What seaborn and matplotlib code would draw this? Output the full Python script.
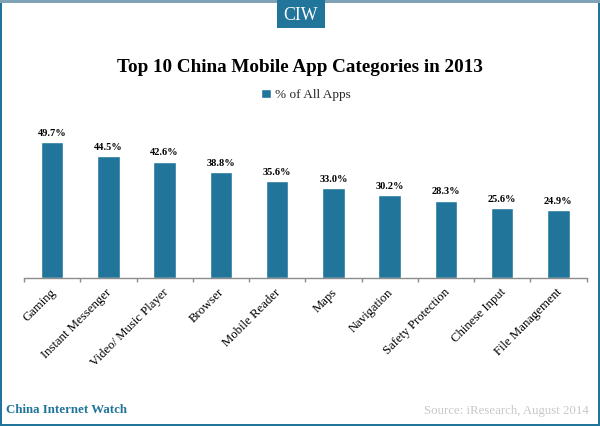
import numpy as np
import pandas as pd
import matplotlib
matplotlib.use('Agg')
import matplotlib.pyplot as plt
from matplotlib.patches import Rectangle
from matplotlib.transforms import ScaledTranslation
import seaborn as sns

categories = ['Gaming', 'Instant Messenger', 'Video/ Music Player', 'Browser', 'Mobile Reader',
              'Maps', 'Navigation', 'Safety Protection', 'Chinese Input', 'File Management']
values = [49.7, 44.5, 42.6, 38.8, 35.6, 33.0, 30.2, 28.3, 25.6, 24.9]
series_name = '% of All Apps'

teal = '#21759b'

sns.set_theme(style='white')
plt.rcParams['font.family'] = ['Liberation Serif', 'DejaVu Serif']

df = pd.DataFrame({'category': categories, 'share': values})

fig = plt.figure(figsize=(6, 4.26), dpi=100, facecolor='white')
ax = fig.add_axes([24 / 600, 1 - 278 / 426, 562.5 / 600, 164 / 426])

sns.barplot(data=df, x='category', y='share', color=teal, width=0.4, saturation=1,
            label=series_name, ax=ax)
ax.set_xlim(-0.5, 9.5)
ax.set_ylim(0, 60)
ax.set_xlabel('')
ax.set_ylabel('')
ax.set_yticks([])

for spine in ['top', 'left', 'right']:
    ax.spines[spine].set_visible(False)
ax.spines['bottom'].set_color('#8c8c8c')
ax.spines['bottom'].set_linewidth(1)

# labels sit at the centres, tick marks between the categories
ax.set_xticks(range(len(categories)))
ax.set_xticklabels(categories, rotation=45, ha='right', rotation_mode='anchor', fontsize=9.2, color='black')
ax.set_xticks(np.arange(-0.5, 10), minor=True)
ax.tick_params(axis='x', which='major', length=0, pad=6)
ax.tick_params(axis='x', which='minor', length=3, width=1, color='#8c8c8c', bottom=True)

# nudge the rotated labels left a little
nudge = ScaledTranslation(-2.5 / 100, 0, fig.dpi_scale_trans)
for label in ax.get_xticklabels():
    label.set_transform(label.get_transform() + nudge)

for container in ax.containers:
    ax.bar_label(container, fmt='%.1f%%', padding=3, fontsize=7.5, fontweight='bold', color='black')

leg = ax.legend(loc='center', bbox_to_anchor=(306 / 600, 1 - 95 / 426), bbox_transform=fig.transFigure,
                frameon=False, fontsize=9.5, handlelength=0.75, handleheight=0.75, handletextpad=0.3)

fig.text(0.5, 1 - 67 / 426, 'Top 10 China Mobile App Categories in 2013', ha='center', va='center',
         fontsize=13.8, fontweight='bold', color='black')

# page frame
fig.add_artist(Rectangle((0, 0), 2 / 600, 1, transform=fig.transFigure, color=teal, lw=0))
fig.add_artist(Rectangle((598 / 600, 0), 2 / 600, 1, transform=fig.transFigure, color=teal, lw=0))
fig.add_artist(Rectangle((0, 0), 1, 2 / 426, transform=fig.transFigure, color=teal, lw=0))
fig.add_artist(Rectangle((0, 1 - 3 / 426), 1, 3 / 426, transform=fig.transFigure, color='#7fa3b5', lw=0))

# CIW badge
fig.add_artist(Rectangle((277 / 600, 1 - 28 / 426), 48 / 600, 28 / 426, transform=fig.transFigure, color=teal, lw=0))
fig.text(301 / 600, 1 - 15 / 426, 'CIW', ha='center', va='center', fontsize=12.8, color='white')

fig.text(6 / 600, 1 - 410 / 426, 'China Internet Watch', ha='left', va='center', fontsize=9.3,
         fontweight='bold', color=teal)
fig.text(589 / 600, 1 - 411 / 426, 'Source: iResearch, August 2014', ha='right', va='center', fontsize=9.3,
         color='#c8c8c8')

fig.savefig('out.png', dpi=100)
